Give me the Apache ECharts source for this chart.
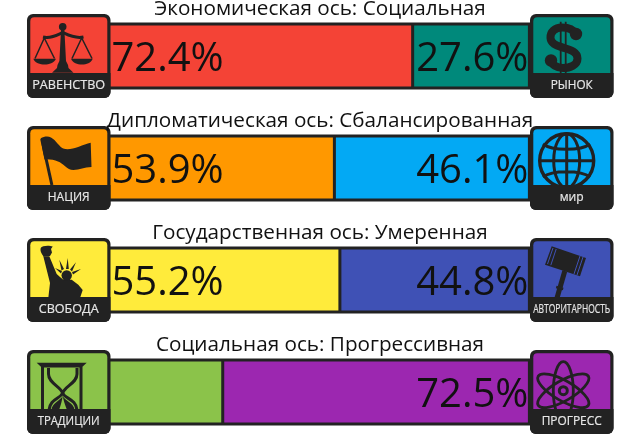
<!DOCTYPE html>
<html><head><meta charset="utf-8">
<style>html,body{margin:0;padding:0;background:#fff}#c{width:640px;height:448px}</style>
<script src="https://cdn.jsdelivr.net/npm/echarts@6/dist/echarts.min.js"></script>
</head><body><div id="c"></div>
<script>
const axisTitles = ['Экономическая ось: Социальная','Дипломатическая ось: Сбалансированная','Государственная ось: Умеренная','Социальная ось: Прогрессивная'];
const categories = ['Экономическая','Дипломатическая','Государственная','Социальная'];
const leftValues = [72.4,53.9,55.2,27.5];
const rightValues = [27.6,46.1,44.8,72.5];
const leftLabelShown = [true,true,true,false];
const rightLabelShown = [true,true,true,true];
const leftColors = ['#f44336','#ff9800','#ffeb3b','#8bc34a'];
const rightColors = ['#00897b','#03a9f4','#3f51b5','#9c27b0'];
const leftNames = ['РАВЕНСТВО','НАЦИЯ','СВОБОДА','ТРАДИЦИИ'];
const rightNames = ['РЫНОК','мир','АВТОРИТАРНОСТЬ','ПРОГРЕСС'];
const leftNameWidths = [73,42,60,62];
const rightNameWidths = [42,24,77,60];

const DARK = '#222222', FONT = '"Open Sans","Noto Sans",sans-serif';
const P = (d, fill) => ({type:'path', shape:{pathData:d}, style:{fill:fill||DARK}});
const S = (d, lw, cap) => ({type:'path', shape:{pathData:d}, style:{fill:'none', stroke:DARK, lineWidth:lw, lineCap:cap||'butt', lineJoin:'round'}});
const C = (x,y,r) => ({type:'circle', shape:{cx:x,cy:y,r:r}, style:{fill:DARK}});
const E = (x,y,rx,ry,rot,lw) => ({type:'ellipse', x:x, y:y, rotation:rot, shape:{cx:0,cy:0,rx:rx,ry:ry}, style:{fill:'none',stroke:DARK,lineWidth:lw}});

const iconScale = [
  C(35.7,12.7,3.8),
  S('M16,23 C24,25 30,21 35.7,18.5 C41,21 48,25 56.5,23',3),
  P('M34,16 L37.4,16 L39,47 L41,51 L41.5,54 L46.5,58.8 L25,58.8 L30,54 L30.5,51 L32.4,47 Z'),
  S('M17.3,24 L8,44.5 M17.3,24 L27.5,44.5 M54.7,24 L45,44.5 M54.7,24 L65,44.5',1.5),
  P('M6.3,44.8 L29,44.8 C27,49 22,50.5 17.6,50.5 C13,50.5 8,49 6.3,44.8 Z'),
  P('M44,44.8 L65.7,44.8 C64,49 59.5,50.5 55,50.5 C50,50.5 46,49 44,44.8 Z')
];
const iconDollar = [
  S('M30.7,7.7 L30.7,59 M35.7,7.7 L35.7,59',1.8),
  S('M46,20 C43,15 38,13.5 32,13.5 C25,13.5 20,18 20.5,24 C21,31 29,32 34,34 C41,36 47.5,38 47.5,44.5 C47.5,51 40,54 33,54 C27,54 22,51 20.5,46',8),
  C(46,20,6.2), C(21,46.5,6.2)
];
const iconFlag = [
  S('M14.7,13 L24.9,59',3),
  P('M13.7,12.3 C17,10.5 21,10 24,11.5 C29,14 32,21 37,22.8 C44,25 55,19 63.7,16.8 L64.5,41 C57,41 53,44 46.3,44 C40,44 36,37 31,35.5 C27,34 22,33 17.5,33.5 C16,26 14.5,19 13.7,12.3 Z')
];
const iconGlobe = [
  E(36.7,34.7,27,27,0,3.4),
  E(36.7,34.7,13,27,0,3),
  S('M36.7,7.5 L36.7,62 M9.7,34.7 L63.7,34.7 M13,18 C22,25 51,25 60,18 M13,51 C22,44 51,44 60,51',3)
];
const iconLiberty = [
  P('M13.7,10 C15,7.5 22,7 25.7,8.5 L24,11 L25,14.5 L23,18 L16.5,18.5 C14,15 13,13 13.7,10 Z'),
  P('M16.3,18.3 L22.3,18.3 L29.7,36 L33,39 L36.3,41.7 L44.7,41.7 L51.3,46.7 L55.7,52 L53,60 L21.3,60 L23,45 Z'),
  C(39.7,37.5,5.2),
  P('M32.3,21.7 L37,31 L34.5,32.5 Z M40.7,20 L41.8,31 L39,31 Z M49,24.3 L45,33.5 L43,31.5 Z M54,31 L46,36.5 L45,34 Z M28,30 L35,33 L34,35.5 Z')
];
const iconGavel = [
  P('M21.7,8.3 L56,20 L50,38.3 L15,26.7 Z'),
  S('M23,10 L17.5,26 M26.2,11 L20.8,27.2 M50,18 L44,36 M53,19 L47,37',1, 'butt'),
  S('M34.8,33 L27,60',5),
  S('M26.2,49 L33.2,51',2.4)
];
iconGavel[1].style.stroke = '#3f51b5';
const iconGlass = [
  P('M9.7,12.7 L59.7,12.7 L54.7,17.5 L14.7,17.5 Z'),
  S('M15.5,17 L15.5,60 M54,17 L54,60',3),
  S('M21.5,18 L21.5,24 C21.5,33 33,36 35.7,43 C38,36 50,33 50,24 L50,18',3),
  S('M35.7,43 C33,49 23,49 22,60 M35.7,43 C38,49 49,49 50,60',3),
  P('M35.7,46 C33,51 25,53 24.5,60 L32,60 C34,55 35,50 35.7,46 Z M35.7,46 C38,51 47,53 47.5,60 L40,60 C38,55 36.5,50 35.7,46 Z')
];
const iconAtom = [
  E(33.3,40.7,29,10,Math.PI/2,2.8),
  E(33.3,40.7,29,10,Math.PI/6,2.8),
  E(33.3,40.7,29,10,-Math.PI/6,2.8),
  E(33.3,40.7,4,4,0,3)
];
const leftIcons = [iconScale,iconFlag,iconLiberty,iconGlass];
const rightIcons = [iconDollar,iconGlobe,iconGavel,iconAtom];

const measure = document.createElement('canvas').getContext('2d');
function renderIcon(params, api){
  const row = api.value(0), side = api.value(1);
  const color = side ? rightColors[row] : leftColors[row];
  const name = side ? rightNames[row] : leftNames[row];
  const targetW = side ? rightNameWidths[row] : leftNameWidths[row];
  const font = '13px "Open Sans"';
  measure.font = font;
  const sx = targetW / measure.measureText(name).width;
  return {
    type:'group', x: side ? 530 : 27, y: 14 + row*112,
    children: [
      {type:'rect', shape:{x:0,y:0,width:83.5,height:84,r:6}, style:{fill:DARK}},
      {type:'rect', shape:{x:3.3,y:3.3,width:77,height:56,r:[4,4,0,0]}, style:{fill:color}}
    ].concat((side ? rightIcons : leftIcons)[row]).concat([
      {type:'rect', shape:{x:0,y:59,width:83.5,height:25,r:[0,0,6,6]}, style:{fill:DARK}},
      {type:'text', x:41.7, y:71.5, scaleX:sx, style:{text:name, font:font, fill:'#e6e6e6', stroke:'#e6e6e6', lineWidth:0.2, align:'center', verticalAlign:'middle'}}
    ])
  };
}
function renderFrame(params, api){
  const b = api.value(0), half = 32;
  const a = api.coord([0,b]), m = api.coord([api.value(1),b]), e = api.coord([100,b]);
  return {type:'group', children:[
    {type:'rect', shape:{x:a[0], y:a[1]-half, width:e[0]-a[0], height:half*2}, style:{fill:'none', stroke:DARK, lineWidth:3}},
    {type:'line', shape:{x1:m[0], y1:a[1]-half, x2:m[0], y2:a[1]+half}, style:{stroke:DARK, lineWidth:3}}
  ]};
}

const barSeries = (values, colors, shown, labelPos) => ({
  type:'bar', stack:'axis', barWidth:64, silent:true,
  data: values.map((v,i)=>({value:v, itemStyle:{color:colors[i]}, label:{show:shown[i]}})),
  label:{show:true, position:labelPos, distance:labelPos==='insideLeft'?5:1, offset:[0,4], formatter:'{c}%', color:'#111', fontFamily:FONT, fontSize:40}
});

const chart = echarts.init(document.getElementById('c'), null, {renderer:'canvas'});
chart.setOption({
  animation:false,
  backgroundColor:'#fff',
  title: axisTitles.map((t,i)=>({text:t, left:'center', top:-5+i*112, z:10, padding:0,
    textStyle:{fontFamily:FONT, fontSize:20.7, fontWeight:'normal', color:'#111', lineHeight:28}})),
  grid:{left:106.4, right:110.6, top:0, bottom:0},
  xAxis:{type:'value', min:0, max:100, show:false},
  yAxis:{type:'category', inverse:true, data:categories, show:false},
  series:[
    barSeries(leftValues,leftColors,leftLabelShown,'insideLeft'),
    barSeries(rightValues,rightColors,rightLabelShown,'insideRight'),
    {type:'custom', name:'frame', silent:true, z:4, clip:false, renderItem:renderFrame,
     encode:{y:0}, data:leftValues.map((v,i)=>[i,v])},
    {type:'custom', coordinateSystem:'none', silent:true, z:8, clip:false, renderItem:renderIcon,
     data:[[0,0],[0,1],[1,0],[1,1],[2,0],[2,1],[3,0],[3,1]]}
  ]
});
</script></body></html>
